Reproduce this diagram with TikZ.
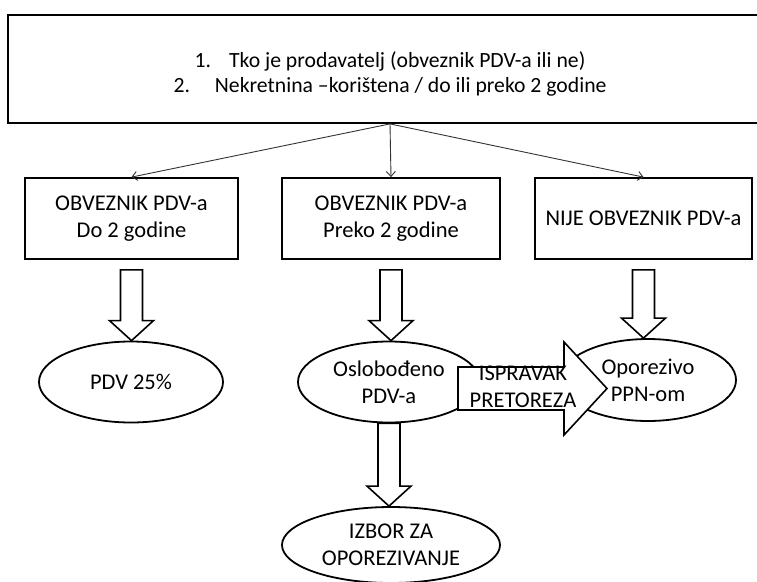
\documentclass[tikz,border=0pt]{standalone}
\usepackage{fontspec}
\setmainfont{Carlito}
\usetikzlibrary{shapes.geometric,calc,arrows.meta}

\tikzset{
	box/.style={draw,line width=1.8pt,align=center,inner sep=0pt},
	oval/.style={ellipse,draw,line width=1.8pt,align=center,inner sep=0pt},
	conn/.style={line width=0.9pt,draw=black!80,-{Straight Barb[length=5pt,width=9pt]}},
	blockarrow/.style={draw,fill=white,line width=1.6pt,line join=miter},
}

% big hollow arrow pointing down: #1 start, #2 tip
\newcommand{\bigdown}[2]{%
	\draw[blockarrow] let \p1=(#1), \p2=(#2) in
	(\x1-11pt,\y1) -- (\x1+11pt,\y1) -- (\x1+11pt,\y2+20pt) -- (\x1+22pt,\y2+20pt)
	-- (\x1,\y2) -- (\x1-22pt,\y2+20pt) -- (\x1-11pt,\y2+20pt) -- cycle;
}

\begin{document}
\begin{tikzpicture}[x=1pt,y=-1pt,font=\fontsize{22.5}{27}\selectfont]
	\useasboundingbox (0,0) rectangle (757,581);
	
	%TOP BOX
	\node[box,minimum width=764pt,minimum height=108pt,font=\fontsize{21.7}{25}\selectfont] (top) at (390,69)
	{\rule{0pt}{25pt}1.\hspace{18pt}Tko je prodavatelj (obveznik PDV-a ili ne)\\
		2.\hspace{25pt}Nekretnina –korištena / do ili preko 2 godine};
	
	%SECOND ROW
	\node[box,minimum width=213pt,minimum height=81pt] (b1) at (131.5,218.5) {OBVEZNIK PDV-a\\Do 2 godine};
	\node[box,minimum width=218pt,minimum height=81pt] (b2) at (391,218.5)   {OBVEZNIK PDV-a\\Preko 2 godine};
	\node[box,minimum width=217pt,minimum height=81pt] (b3) at (643.5,218.5) {NIJE OBVEZNIK PDV-a};
	\foreach \b in {b1,b2,b3} \draw[conn] (top.south) -- (\b.north);
	
	%OVALS
	\node[oval,minimum width=184pt,minimum height=81pt] (e1) at (131,382) {PDV 25\%};
	\node[oval,minimum width=182pt,minimum height=81pt] (e2) at (389,382) {Oslobođeno\\PDV-a};
	\node[oval,minimum width=176pt,minimum height=82pt] (e3) at (648,380) {Oporezivo\\PPN-om};
	\node[oval,minimum width=218pt,minimum height=76pt] (e4) at (391,545) {IZBOR ZA\\OPOREZIVANJE};
	
	%BLOCK ARROWS
	\foreach \a/\b in {b1/e1,b2/e2,b3/e3} \bigdown{$(\a.south)+(0,10)$}{\b.north};
	\bigdown{e2.south}{e4.north};
	
	% sideways arrow over the ovals
	\coordinate (ps) at (458,388.5);
	\coordinate (pt) at (607,388.5);
	\draw[blockarrow] (ps) ++(0,-21.5) -- ++(106,0) -- ++(0,-25) -- (pt)
	-- ++(-43,46.5) -- ++(0,-25) -- ++(-106,0) -- cycle;
	\node[align=center,inner sep=0pt] (isp) at (523,387) {ISPRAVAK\\PRETOREZA};
	
%	\draw[help lines,step=50] (0,0) grid (757,581);
\end{tikzpicture}
\end{document}
